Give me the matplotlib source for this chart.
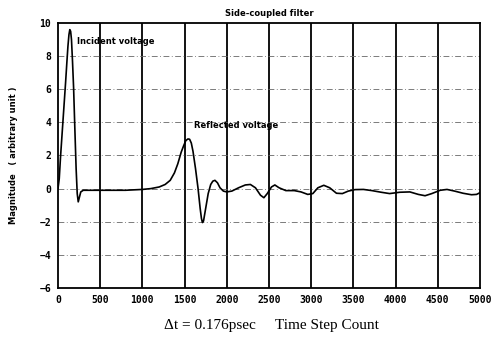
import matplotlib.pyplot as plt

# values
t = [0, 15, 30, 50, 70, 90, 105, 118, 130, 140, 150, 160, 172, 185, 200, 215, 228, 240, 255, 270, 300,
     500, 800, 1000, 1100, 1200, 1270, 1330, 1380, 1420, 1460, 1490, 1515, 1540, 1560, 1580, 1600, 1630,
     1660, 1685, 1700, 1712, 1725, 1750, 1780, 1810, 1835, 1860, 1890, 1920, 1960, 2000, 2060, 2140, 2220,
     2280, 2340, 2400, 2440, 2480, 2530, 2570, 2620, 2700, 2800, 2880, 2960, 3020, 3080, 3150,
     3220, 3300, 3370, 3440, 3520, 3620, 3720, 3830, 3930, 4050, 4170, 4270, 4350, 4430, 4530,
     4610, 4700, 4800, 4900, 4960, 5000]
v = [0.0, 0.6, 1.9, 3.4, 4.9, 6.4, 7.6, 8.6, 9.3, 9.6, 9.5, 9.0, 7.7, 6.1, 3.6, 1.2, -0.3, -0.8, -0.5, -0.2, -0.1,
     -0.1, -0.1, -0.05, 0.0, 0.1, 0.25, 0.5, 0.95, 1.5, 2.2, 2.6, 2.9, 3.0, 2.98, 2.75, 2.25, 1.2,
     0.0, -1.2, -1.8, -2.05, -1.95, -1.2, -0.3, 0.25, 0.45, 0.5, 0.35, 0.05, -0.15, -0.2, -0.15, 0.05, 0.22,
     0.25, 0.05, -0.4, -0.55, -0.3, 0.1, 0.22, 0.05, -0.12, -0.12, -0.2, -0.35, -0.3, 0.05, 0.2,
     0.05, -0.28, -0.3, -0.15, -0.06, -0.05, -0.12, -0.22, -0.3, -0.22, -0.2, -0.35, -0.43, -0.3, -0.1,
     -0.05, -0.15, -0.28, -0.37, -0.35, -0.25]

xticks = [0, 500, 1000, 1500, 2000, 2500, 3000, 3500, 4000, 4500, 5000]
yticks = [-6, -4, -2, 0, 2, 4, 6, 8, 10]

fig = plt.figure(figsize=(5.02, 3.42), dpi=100)
ax = fig.add_axes([0.1155, 0.158, 0.8405, 0.7747])

# grid: solid vertical, dash-dot horizontal
for x in xticks[1:-1]:
    ax.axvline(x, color='black', lw=1.3, zorder=1)
for y in yticks[1:-1]:
    ax.axhline(y, color='0.4', lw=0.6, ls=(0, (7, 3, 1, 3)), zorder=1)

ax.plot(t, v, color='black', lw=1.2, zorder=3)

ax.set_xlim(0, 5000)
ax.set_ylim(-6, 10)
ax.set_xticks(xticks)
ax.set_yticks(yticks)
ax.tick_params(length=0, labelsize=7, pad=5)
for lab in ax.get_xticklabels() + ax.get_yticklabels():
    lab.set_fontweight('bold')
    lab.set_family('DejaVu Sans Mono')
for s in ax.spines.values():
    s.set_linewidth(1.3)

ax.set_title('Side-coupled filter', fontsize=6, fontweight='bold', pad=5)
ax.text(225, 8.9, 'Incident voltage', fontsize=6, fontweight='bold', va='center')
ax.text(1610, 3.8, 'Reflected voltage', fontsize=6, fontweight='bold', va='center')
ax.set_ylabel('Magnitude   ( arbitrary unit )', fontsize=6, fontweight='bold', labelpad=15)

fig.text(0.54, 0.047, '\u0394t = 0.176psec     Time Step Count', family='Liberation Serif',
         fontsize=11, ha='center', va='center')

fig.savefig('out.png', dpi=100)
